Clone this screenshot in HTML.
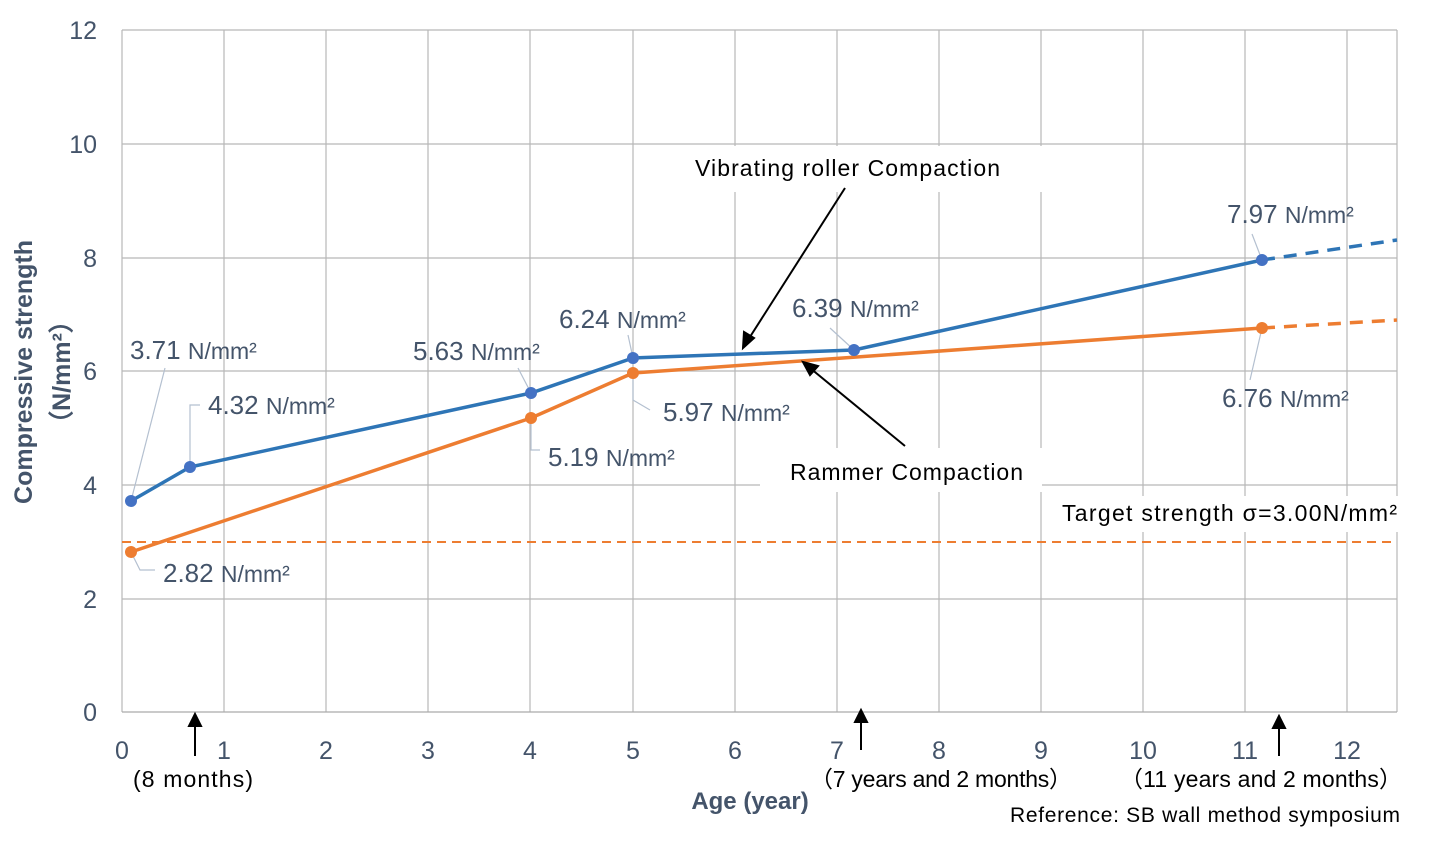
<!DOCTYPE html>
<html><head><meta charset="utf-8"><style>
body{margin:0;background:#fff}
text{font-family:"Liberation Sans",sans-serif}
</style></head><body>
<svg width="1440" height="842" xmlns="http://www.w3.org/2000/svg">
<g stroke="#b8b8b8" stroke-width="1.2">
<line x1="122" y1="30" x2="1397" y2="30"/><line x1="122" y1="144" x2="1397" y2="144"/><line x1="122" y1="258" x2="1397" y2="258"/><line x1="122" y1="371" x2="1397" y2="371"/><line x1="122" y1="485" x2="1397" y2="485"/><line x1="122" y1="599" x2="1397" y2="599"/>
<line x1="122" y1="30" x2="122" y2="712"/><line x1="224" y1="30" x2="224" y2="712"/><line x1="326" y1="30" x2="326" y2="712"/><line x1="428" y1="30" x2="428" y2="712"/><line x1="530" y1="30" x2="530" y2="712"/><line x1="633" y1="30" x2="633" y2="712"/><line x1="735" y1="30" x2="735" y2="712"/><line x1="837" y1="30" x2="837" y2="712"/><line x1="939" y1="30" x2="939" y2="712"/><line x1="1041" y1="30" x2="1041" y2="712"/><line x1="1143" y1="30" x2="1143" y2="712"/><line x1="1245" y1="30" x2="1245" y2="712"/><line x1="1347" y1="30" x2="1347" y2="712"/><line x1="1397" y1="30" x2="1397" y2="712"/>
</g>
<line x1="122" y1="712" x2="1397" y2="712" stroke="#aaa" stroke-width="1.2"/>
<rect x="648" y="146" width="402" height="46" fill="#fff"/>
<rect x="760" y="448" width="282" height="44" fill="#fff"/>
<rect x="1050" y="496" width="350" height="36" fill="#fff"/>
<g fill="#44546a" font-size="25" text-anchor="end">
<text x="97" y="39">12</text><text x="97" y="153">10</text><text x="97" y="267">8</text><text x="97" y="380">6</text><text x="97" y="494">4</text><text x="97" y="608">2</text><text x="97" y="721">0</text>
</g>
<g fill="#44546a" font-size="25" text-anchor="middle">
<text x="122" y="759">0</text><text x="224" y="759">1</text><text x="326" y="759">2</text><text x="428" y="759">3</text><text x="530" y="759">4</text><text x="633" y="759">5</text><text x="735" y="759">6</text><text x="837" y="759">7</text><text x="939" y="759">8</text><text x="1041" y="759">9</text><text x="1143" y="759">10</text><text x="1245" y="759">11</text><text x="1347" y="759">12</text>
</g>
<text x="750" y="809" fill="#44546a" font-size="24" font-weight="bold" text-anchor="middle">Age (year)</text>
<text transform="translate(32,372) rotate(-90)" fill="#44546a" font-size="25" font-weight="bold" text-anchor="middle">Compressive strength</text>
<text transform="translate(70,372) rotate(-90)" fill="#44546a" font-size="25" font-weight="bold" text-anchor="middle">（N/mm²）</text>
<line x1="122" y1="542" x2="1397" y2="542" stroke="#ed7d31" stroke-width="2" stroke-dasharray="9,6"/>
<g stroke="#b4c0d0" stroke-width="1.2" fill="none">
<polyline points="131,501 165,368"/><polyline points="190,467 190,405 200,405"/>
<polyline points="531,393 518,368"/><polyline points="633,358 628,335"/><polyline points="854,350 830,328"/>
<polyline points="1262,260 1252,234"/><polyline points="131,552 140,570 155,570"/><polyline points="531,418 531,450 540,450"/>
<polyline points="633,373 633,400 650,410"/><polyline points="1262,328 1250,380"/>
</g>
<polyline points="131,552 531,418 633,373 1262,328" fill="none" stroke="#ed7d31" stroke-width="3.5"/>
<line x1="1262" y1="328" x2="1397" y2="320" stroke="#ed7d31" stroke-width="3.5" stroke-dasharray="13,9"/>
<polyline points="131,501 190,467 531,393 633,358 854,350 1262,260" fill="none" stroke="#2e75b6" stroke-width="3.5"/>
<line x1="1262" y1="260" x2="1397" y2="240" stroke="#2e75b6" stroke-width="3.5" stroke-dasharray="13,9"/>
<g fill="#ed7d31"><circle cx="131" cy="552" r="6"/><circle cx="531" cy="418" r="6"/><circle cx="633" cy="373" r="6"/><circle cx="1262" cy="328" r="6"/></g>
<g fill="#4472c4"><circle cx="131" cy="501" r="6"/><circle cx="190" cy="467" r="6"/><circle cx="531" cy="393" r="6"/><circle cx="633" cy="358" r="6"/><circle cx="854" cy="350" r="6"/><circle cx="1262" cy="260" r="6"/></g>
<g fill="#44546a" font-size="26">
<text x="130" y="359">3.71 <tspan font-size="23">N/mm²</tspan></text>
<text x="208" y="414">4.32 <tspan font-size="23">N/mm²</tspan></text>
<text x="413" y="360">5.63 <tspan font-size="23">N/mm²</tspan></text>
<text x="559" y="328">6.24 <tspan font-size="23">N/mm²</tspan></text>
<text x="792" y="317">6.39 <tspan font-size="23">N/mm²</tspan></text>
<text x="1227" y="223">7.97 <tspan font-size="23">N/mm²</tspan></text>
<text x="163" y="582">2.82 <tspan font-size="23">N/mm²</tspan></text>
<text x="548" y="466">5.19 <tspan font-size="23">N/mm²</tspan></text>
<text x="663" y="421">5.97 <tspan font-size="23">N/mm²</tspan></text>
<text x="1222" y="407">6.76 <tspan font-size="23">N/mm²</tspan></text>
</g>
<g fill="#000" font-size="23">
<text x="695" y="176" textLength="305">Vibrating roller Compaction</text>
<text x="790" y="480" textLength="233">Rammer Compaction</text>
<text x="1062" y="521" textLength="335">Target strength σ=3.00N/mm²</text>
<text x="133" y="787" textLength="120">(8 months)</text>
<text x="810" y="787" textLength="262">（7 years and 2 months）</text>
<text x="1120" y="787" textLength="282">（11 years and 2 months）</text>
<text x="1010" y="822" font-size="21" textLength="390">Reference: SB wall method symposium</text>
</g>
<g stroke="#000" stroke-width="2" fill="#000">
<line x1="845" y1="188" x2="748" y2="340"/><polygon points="743,348 744,332 754,338"/>
<line x1="905" y1="446" x2="810" y2="368"/><polygon points="803,362 818,366 810,375"/>
<line x1="195" y1="756" x2="195" y2="722"/><polygon points="195,714 189,726 201,726"/>
<line x1="861" y1="750" x2="861" y2="718"/><polygon points="861,710 855,722 867,722"/>
<line x1="1279" y1="756" x2="1279" y2="724"/><polygon points="1279,716 1273,728 1285,728"/>
</g>
</svg>
</body></html>
